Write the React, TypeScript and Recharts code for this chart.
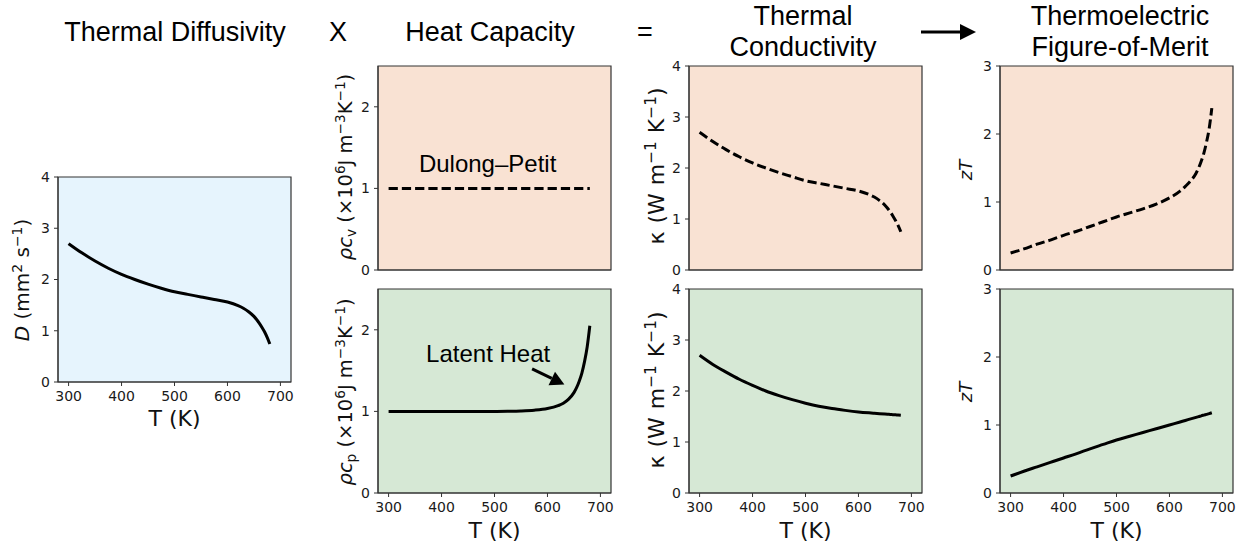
import React from 'react';
import { LineChart, Line, XAxis, YAxis, ReferenceArea, ReferenceDot, ReferenceLine } from 'recharts';

// Temperatures (K)
const temps = [300, 325, 350, 375, 400, 425, 450, 475, 500, 525, 550, 575, 600, 620, 630, 640, 650, 655, 660, 665, 670, 675, 680];
// Thermal diffusivity D (mm^2 s^-1)
const diffusivity = [2.70, 2.52, 2.36, 2.22, 2.10, 2.00, 1.91, 1.83, 1.76, 1.71, 1.66, 1.61, 1.56, 1.49, 1.44, 1.37, 1.28, 1.22, 1.15, 1.07, 0.98, 0.87, 0.74];
// Heat capacity, Dulong-Petit (x10^6 J m^-3 K^-1)
const heatCapV = [1, 1, 1, 1, 1, 1, 1, 1, 1, 1, 1, 1, 1, 1, 1, 1, 1, 1, 1, 1, 1, 1, 1];
// Heat capacity with latent heat
const heatCapP = [1.0, 1.0, 1.0, 1.0, 1.0, 1.0, 1.0, 1.0, 1.0, 1.002, 1.006, 1.015, 1.035, 1.07, 1.10, 1.15, 1.23, 1.29, 1.37, 1.47, 1.61, 1.79, 2.05];
// Thermal conductivity (W m^-1 K^-1)
const kappaV = [2.70, 2.52, 2.36, 2.22, 2.10, 2.00, 1.91, 1.83, 1.75, 1.70, 1.65, 1.60, 1.55, 1.48, 1.43, 1.36, 1.27, 1.21, 1.14, 1.06, 0.97, 0.87, 0.75];
const kappaP = [2.70, 2.52, 2.37, 2.23, 2.11, 2.00, 1.91, 1.83, 1.76, 1.70, 1.655, 1.62, 1.59, 1.572, 1.564, 1.556, 1.548, 1.544, 1.54, 1.536, 1.532, 1.528, 1.524];
// Figure of merit zT
const zTV = [0.25, 0.31, 0.38, 0.44, 0.51, 0.57, 0.64, 0.71, 0.78, 0.84, 0.90, 0.97, 1.06, 1.16, 1.23, 1.31, 1.42, 1.50, 1.60, 1.72, 1.88, 2.08, 2.38];
const zTP = [0.25, 0.32, 0.385, 0.45, 0.515, 0.58, 0.65, 0.715, 0.78, 0.835, 0.89, 0.945, 1.0, 1.045, 1.067, 1.09, 1.112, 1.123, 1.135, 1.146, 1.157, 1.168, 1.18];

const xTicks = [300, 400, 500, 600, 700];
const xDomain = [280, 720];

const BLUE = '#e6f4fd';
const PEACH = '#f9e2d3';
const GREEN = '#d6e8d5';
const AXIS = '#333';
const TICKFONT = 'DejaVu Sans, sans-serif';
const TITLEFONT = 'Liberation Sans, Arial, sans-serif';

const PW = 233;

type PanelProps = {
  x: number; y: number; h: number; yMax: number; yTicks: number[];
  values: number[]; dashed?: boolean; bg: string; showX?: boolean; children?: React.ReactNode;
};

function Panel({ x, y, h, yMax, yTicks, values, dashed, bg, showX, children }: PanelProps) {
  const data = temps.map((t, i) => ({ t, v: values[i] }));
  const ML = 50, MT = 8, MR = 8, MB = 30;
  const tickStyle = { fontSize: 14, fontFamily: TICKFONT, fill: '#1a1a1a' };
  return (
    <div style={{ position: 'absolute', left: x - ML, top: y - MT }}>
      <LineChart width={ML + PW + MR} height={MT + h + MB} data={data} margin={{ top: MT, right: MR, left: 0, bottom: 0 }}>
        <XAxis dataKey="t" type="number" domain={xDomain} ticks={xTicks} height={MB} tickSize={4} tickMargin={5}
          tick={showX ? tickStyle : false} stroke={AXIS} allowDataOverflow interval={0} />
        <YAxis type="number" domain={[0, yMax]} ticks={yTicks} width={ML} tickSize={4} tickMargin={4}
          tick={tickStyle} stroke={AXIS} allowDataOverflow interval={0} />
        <ReferenceArea x1={xDomain[0]} x2={xDomain[1]} y1={0} y2={yMax} fill={bg} fillOpacity={1} stroke={AXIS} strokeWidth={1.2} />
        <Line dataKey="v" type="monotone" stroke="#000" strokeWidth={3} dot={false}
          strokeDasharray={dashed ? '9.25 4' : undefined} isAnimationActive={false} />
        {children}
      </LineChart>
    </div>
  );
}

function RotLabel({ cx, cy, size = 21, ws = 0, children }: { cx: number; cy: number; size?: number; ws?: number; children: React.ReactNode }) {
  return (
    <text transform={`translate(${cx + size * 0.36},${cy}) rotate(-90)`} textAnchor="middle" fontSize={size}
      fontFamily={TICKFONT} fill="#111" style={{ wordSpacing: ws }}>
      {children}
    </text>
  );
}

function XLabel({ cx, y }: { cx: number; y: number }) {
  return <text x={cx} y={y} textAnchor="middle" fontSize={22} fontFamily={TICKFONT} fill="#111">T (K)</text>;
}

function sup(s: string, size: number, k: string) {
  return <tspan key={k} dy={-size * 0.38} fontSize={size * 0.7}>{s}</tspan>;
}

export default function App() {
  const col1 = 58, col2 = 378, col3 = 689, col4 = 1000;
  const rowTop = 66, rowBot = 289, H = 204;
  const dTop = 177, dH = 205;
  const S = 19.5, dS = S * 0.38;
  const DS = 20, dD = DS * 0.38;
  const K = 22, dK = K * 0.38;
  return (
    <div style={{ position: 'absolute', left: 0, top: 0, width: 1246, height: 550, background: '#fff', overflow: 'hidden' }}>
      <Panel x={col1} y={dTop} h={dH} yMax={4} yTicks={[0, 1, 2, 3, 4]} values={diffusivity} bg={BLUE} showX />
      <Panel x={col2} y={rowTop} h={H} yMax={2.5} yTicks={[0, 1, 2]} values={heatCapV} bg={PEACH} dashed>
        <ReferenceDot x={487} y={1.2} r={0} shape={(p: any) => (
          <text x={p.cx} y={p.cy} textAnchor="middle" fontSize={24} fontFamily={TITLEFONT} fill="#000">Dulong–Petit</text>
        )} />
      </Panel>
      <Panel x={col2} y={rowBot} h={H} yMax={2.5} yTicks={[0, 1, 2]} values={heatCapP} bg={GREEN} showX>
        <ReferenceDot x={488} y={1.6} r={0} shape={(p: any) => (
          <text x={p.cx} y={p.cy} textAnchor="middle" fontSize={24} fontFamily={TITLEFONT} fill="#000">Latent Heat</text>
        )} />
        <ReferenceLine segment={[{ x: 571, y: 1.52 }, { x: 632, y: 1.33 }]} shape={(p: any) => {
          const { x1, y1, x2, y2 } = p;
          const ang = Math.atan2(y2 - y1, x2 - x1);
          const L = 14, Wd = 7.5;
          const bx = x2 - L * Math.cos(ang), by = y2 - L * Math.sin(ang);
          const nx = -Math.sin(ang) * Wd, ny = Math.cos(ang) * Wd;
          return (
            <g>
              <line x1={x1} y1={y1} x2={bx} y2={by} stroke="#000" strokeWidth={3} />
              <polygon points={`${x2},${y2} ${bx + nx},${by + ny} ${bx - nx},${by - ny}`} fill="#000" />
            </g>
          );
        }} />
      </Panel>
      <Panel x={col3} y={rowTop} h={H} yMax={4} yTicks={[0, 1, 2, 3, 4]} values={kappaV} bg={PEACH} dashed />
      <Panel x={col3} y={rowBot} h={H} yMax={4} yTicks={[0, 1, 2, 3, 4]} values={kappaP} bg={GREEN} showX />
      <Panel x={col4} y={rowTop} h={H} yMax={3} yTicks={[0, 1, 2, 3]} values={zTV} bg={PEACH} dashed />
      <Panel x={col4} y={rowBot} h={H} yMax={3} yTicks={[0, 1, 2, 3]} values={zTP} bg={GREEN} showX />

      <svg width={1246} height={550} style={{ position: 'absolute', left: 0, top: 0, pointerEvents: 'none' }}>
        {/* Titles */}
        <g fontFamily={TITLEFONT} fontSize={27} fill="#000" textAnchor="middle">
          <text x={175} y={41}>Thermal Diffusivity</text>
          <text x={338} y={41}>X</text>
          <text x={490} y={41}>Heat Capacity</text>
          <text x={645} y={41}>=</text>
          <text x={803} y={25}>Thermal</text>
          <text x={803} y={56}>Conductivity</text>
          <text x={1120} y={25}>Thermoelectric</text>
          <text x={1120} y={56}>Figure-of-Merit</text>
        </g>
        <line x1={921} y1={32} x2={962} y2={32} stroke="#000" strokeWidth={3} />
        <polygon points="976,32 960,24 960,40" fill="#000" />

        {/* Y labels */}
        <RotLabel cx={22} cy={280} size={DS}>
          <tspan fontStyle="italic">D</tspan>
          <tspan>{'  (mm'}</tspan>{sup('2', DS, 'a')}<tspan dy={dD}>{' s'}</tspan>{sup('−1', DS, 'b')}<tspan dy={dD}>)</tspan>
        </RotLabel>
        <RotLabel cx={345} cy={167} size={S}>
          <tspan fontStyle="italic">ρc</tspan><tspan dy={S * 0.22} fontSize={S * 0.7}>v</tspan>
          <tspan dy={-S * 0.22}>{' (×10'}</tspan>{sup('6', S, 'a')}<tspan dy={dS}>{'J m'}</tspan>{sup('−3', S, 'b')}<tspan dy={dS}>K</tspan>{sup('−1', S, 'c')}<tspan dy={dS}>)</tspan>
        </RotLabel>
        <RotLabel cx={345} cy={392} size={S}>
          <tspan fontStyle="italic">ρc</tspan><tspan dy={S * 0.22} fontSize={S * 0.7}>p</tspan>
          <tspan dy={-S * 0.22}>{' (×10'}</tspan>{sup('6', S, 'a')}<tspan dy={dS}>{'J m'}</tspan>{sup('−3', S, 'b')}<tspan dy={dS}>K</tspan>{sup('−1', S, 'c')}<tspan dy={dS}>)</tspan>
        </RotLabel>
        <RotLabel cx={656} cy={166} size={K} ws={1}>
          <tspan>{'κ (W m'}</tspan>{sup('−1', K, 'a')}<tspan dy={dK}>{' K'}</tspan>{sup('−1', K, 'b')}<tspan dy={dK}>)</tspan>
        </RotLabel>
        <RotLabel cx={656} cy={390} size={K} ws={1}>
          <tspan>{'κ (W m'}</tspan>{sup('−1', K, 'a')}<tspan dy={dK}>{' K'}</tspan>{sup('−1', K, 'b')}<tspan dy={dK}>)</tspan>
        </RotLabel>
        <RotLabel cx={966} cy={170} size={18}>
          <tspan fontStyle="italic">zT</tspan>
        </RotLabel>
        <RotLabel cx={966} cy={392} size={18}>
          <tspan fontStyle="italic">zT</tspan>
        </RotLabel>

        {/* X labels */}
        <XLabel cx={col1 + PW / 2} y={dTop + dH + 44} />
        <XLabel cx={col2 + PW / 2} y={rowBot + H + 45} />
        <XLabel cx={col3 + PW / 2} y={rowBot + H + 45} />
        <XLabel cx={col4 + PW / 2} y={rowBot + H + 45} />
      </svg>
    </div>
  );
}
